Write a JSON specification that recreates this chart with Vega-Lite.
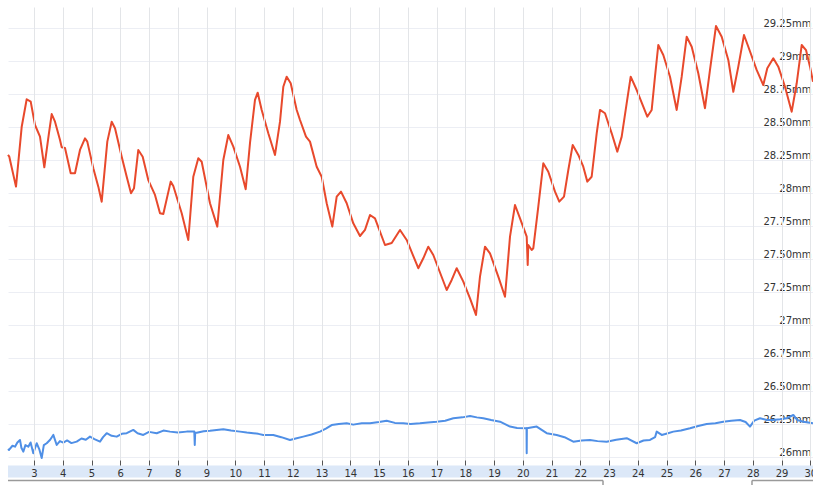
{
  "$schema": "https://vega.github.io/schema/vega-lite/v6.json",
  "width": 805,
  "height": 453,
  "autosize": {"type": "none"},
  "padding": {"left": 8, "top": 7, "right": 0, "bottom": 25},
  "background": "white",
  "config": {"view": {"stroke": null}, "font": "DejaVu Sans"},
  "resolve": {"scale": {"x": "shared", "y": "shared"}, "axis": {"x": "independent", "y": "independent"}},
  "datasets": {
    "series": [
      {"s": "upper", "day": 2.094, "v": 28.288}, {"s": "upper", "day": 2.139, "v": 28.275}, {"s": "upper", "day": 2.372, "v": 28.048}, {"s": "upper", "day": 2.571, "v": 28.502},
      {"s": "upper", "day": 2.744, "v": 28.710}, {"s": "upper", "day": 2.884, "v": 28.692}, {"s": "upper", "day": 3.033, "v": 28.515}, {"s": "upper", "day": 3.207, "v": 28.427},
      {"s": "upper", "day": 3.357, "v": 28.195}, {"s": "upper", "day": 3.520, "v": 28.455}, {"s": "upper", "day": 3.614, "v": 28.598}, {"s": "upper", "day": 3.729, "v": 28.540},
      {"s": "upper", "day": 3.903, "v": 28.402}, {"s": "upper", "day": 3.962, "v": 28.346}, {"s": "upper", "day": 4.077, "v": 28.341}, {"s": "upper", "day": 4.275, "v": 28.149},
      {"s": "upper", "day": 4.424, "v": 28.149}, {"s": "upper", "day": 4.598, "v": 28.326}, {"s": "upper", "day": 4.772, "v": 28.414}, {"s": "upper", "day": 4.852, "v": 28.389},
      {"s": "upper", "day": 5.061, "v": 28.187}, {"s": "upper", "day": 5.235, "v": 28.048}, {"s": "upper", "day": 5.353, "v": 27.934}, {"s": "upper", "day": 5.548, "v": 28.389},
      {"s": "upper", "day": 5.701, "v": 28.540}, {"s": "upper", "day": 5.816, "v": 28.490}, {"s": "upper", "day": 6.049, "v": 28.275}, {"s": "upper", "day": 6.223, "v": 28.123},
      {"s": "upper", "day": 6.372, "v": 27.998}, {"s": "upper", "day": 6.477, "v": 28.036}, {"s": "upper", "day": 6.626, "v": 28.326}, {"s": "upper", "day": 6.779, "v": 28.275},
      {"s": "upper", "day": 6.974, "v": 28.098}, {"s": "upper", "day": 7.207, "v": 27.985}, {"s": "upper", "day": 7.381, "v": 27.846}, {"s": "upper", "day": 7.496, "v": 27.841},
      {"s": "upper", "day": 7.753, "v": 28.086}, {"s": "upper", "day": 7.844, "v": 28.053}, {"s": "upper", "day": 8.136, "v": 27.846}, {"s": "upper", "day": 8.365, "v": 27.644},
      {"s": "upper", "day": 8.539, "v": 28.123}, {"s": "upper", "day": 8.713, "v": 28.263}, {"s": "upper", "day": 8.831, "v": 28.237}, {"s": "upper", "day": 9.120, "v": 27.922},
      {"s": "upper", "day": 9.374, "v": 27.745}, {"s": "upper", "day": 9.583, "v": 28.250}, {"s": "upper", "day": 9.757, "v": 28.439}, {"s": "upper", "day": 9.931, "v": 28.351},
      {"s": "upper", "day": 10.164, "v": 28.199}, {"s": "upper", "day": 10.362, "v": 28.028}, {"s": "upper", "day": 10.511, "v": 28.377}, {"s": "upper", "day": 10.685, "v": 28.705},
      {"s": "upper", "day": 10.779, "v": 28.760}, {"s": "upper", "day": 10.918, "v": 28.629}, {"s": "upper", "day": 11.148, "v": 28.452}, {"s": "upper", "day": 11.381, "v": 28.288},
      {"s": "upper", "day": 11.555, "v": 28.540}, {"s": "upper", "day": 11.670, "v": 28.805}, {"s": "upper", "day": 11.788, "v": 28.881}, {"s": "upper", "day": 11.927, "v": 28.831},
      {"s": "upper", "day": 12.136, "v": 28.629}, {"s": "upper", "day": 12.251, "v": 28.553}, {"s": "upper", "day": 12.459, "v": 28.427}, {"s": "upper", "day": 12.598, "v": 28.389},
      {"s": "upper", "day": 12.831, "v": 28.199}, {"s": "upper", "day": 13.005, "v": 28.123}, {"s": "upper", "day": 13.179, "v": 27.922}, {"s": "upper", "day": 13.374, "v": 27.745},
      {"s": "upper", "day": 13.527, "v": 27.972}, {"s": "upper", "day": 13.677, "v": 28.010}, {"s": "upper", "day": 13.875, "v": 27.922}, {"s": "upper", "day": 14.104, "v": 27.770},
      {"s": "upper", "day": 14.337, "v": 27.674}, {"s": "upper", "day": 14.511, "v": 27.720}, {"s": "upper", "day": 14.685, "v": 27.833}, {"s": "upper", "day": 14.859, "v": 27.808},
      {"s": "upper", "day": 15.207, "v": 27.606}, {"s": "upper", "day": 15.440, "v": 27.621}, {"s": "upper", "day": 15.729, "v": 27.720}, {"s": "upper", "day": 15.962, "v": 27.644},
      {"s": "upper", "day": 16.365, "v": 27.430}, {"s": "upper", "day": 16.539, "v": 27.505}, {"s": "upper", "day": 16.713, "v": 27.593}, {"s": "upper", "day": 16.887, "v": 27.530},
      {"s": "upper", "day": 17.353, "v": 27.265}, {"s": "upper", "day": 17.527, "v": 27.341}, {"s": "upper", "day": 17.701, "v": 27.430}, {"s": "upper", "day": 17.931, "v": 27.328},
      {"s": "upper", "day": 18.164, "v": 27.202}, {"s": "upper", "day": 18.372, "v": 27.076}, {"s": "upper", "day": 18.511, "v": 27.366}, {"s": "upper", "day": 18.685, "v": 27.593},
      {"s": "upper", "day": 18.859, "v": 27.543}, {"s": "upper", "day": 19.148, "v": 27.366}, {"s": "upper", "day": 19.381, "v": 27.214}, {"s": "upper", "day": 19.555, "v": 27.669},
      {"s": "upper", "day": 19.729, "v": 27.909}, {"s": "upper", "day": 19.903, "v": 27.808}, {"s": "upper", "day": 20.136, "v": 27.669}, {"s": "upper", "day": 20.171, "v": 27.455},
      {"s": "upper", "day": 20.191, "v": 27.606}, {"s": "upper", "day": 20.309, "v": 27.568}, {"s": "upper", "day": 20.365, "v": 27.581}, {"s": "upper", "day": 20.539, "v": 27.896},
      {"s": "upper", "day": 20.713, "v": 28.225}, {"s": "upper", "day": 20.887, "v": 28.161}, {"s": "upper", "day": 21.120, "v": 28.010}, {"s": "upper", "day": 21.269, "v": 27.934},
      {"s": "upper", "day": 21.433, "v": 27.972}, {"s": "upper", "day": 21.583, "v": 28.174}, {"s": "upper", "day": 21.736, "v": 28.364}, {"s": "upper", "day": 21.931, "v": 28.288},
      {"s": "upper", "day": 22.104, "v": 28.199}, {"s": "upper", "day": 22.244, "v": 28.086}, {"s": "upper", "day": 22.395, "v": 28.123}, {"s": "upper", "day": 22.570, "v": 28.452},
      {"s": "upper", "day": 22.685, "v": 28.629}, {"s": "upper", "day": 22.859, "v": 28.604}, {"s": "upper", "day": 23.092, "v": 28.452}, {"s": "upper", "day": 23.287, "v": 28.313},
      {"s": "upper", "day": 23.440, "v": 28.427}, {"s": "upper", "day": 23.614, "v": 28.680}, {"s": "upper", "day": 23.753, "v": 28.881}, {"s": "upper", "day": 23.962, "v": 28.780},
      {"s": "upper", "day": 24.191, "v": 28.654}, {"s": "upper", "day": 24.330, "v": 28.578}, {"s": "upper", "day": 24.483, "v": 28.629}, {"s": "upper", "day": 24.598, "v": 28.881},
      {"s": "upper", "day": 24.713, "v": 29.121}, {"s": "upper", "day": 24.887, "v": 29.045}, {"s": "upper", "day": 25.120, "v": 28.881}, {"s": "upper", "day": 25.353, "v": 28.629},
      {"s": "upper", "day": 25.527, "v": 28.881}, {"s": "upper", "day": 25.701, "v": 29.184}, {"s": "upper", "day": 25.875, "v": 29.108}, {"s": "upper", "day": 26.104, "v": 28.907},
      {"s": "upper", "day": 26.337, "v": 28.642}, {"s": "upper", "day": 26.511, "v": 28.932}, {"s": "upper", "day": 26.720, "v": 29.265}, {"s": "upper", "day": 26.918, "v": 29.184},
      {"s": "upper", "day": 27.148, "v": 29.008}, {"s": "upper", "day": 27.322, "v": 28.767}, {"s": "upper", "day": 27.496, "v": 28.957}, {"s": "upper", "day": 27.694, "v": 29.197},
      {"s": "upper", "day": 27.844, "v": 29.108}, {"s": "upper", "day": 28.134, "v": 28.932}, {"s": "upper", "day": 28.365, "v": 28.818}, {"s": "upper", "day": 28.504, "v": 28.945},
      {"s": "upper", "day": 28.713, "v": 29.020}, {"s": "upper", "day": 28.887, "v": 28.957}, {"s": "upper", "day": 29.120, "v": 28.805}, {"s": "upper", "day": 29.353, "v": 28.616},
      {"s": "upper", "day": 29.527, "v": 28.831}, {"s": "upper", "day": 29.701, "v": 29.121}, {"s": "upper", "day": 29.851, "v": 29.083}, {"s": "upper", "day": 29.990, "v": 28.957},
      {"s": "upper", "day": 30.094, "v": 28.843},

      {"s": "lower", "day": 2.094, "v": 26.060}, {"s": "lower", "day": 2.129, "v": 26.053}, {"s": "lower", "day": 2.250, "v": 26.085}, {"s": "lower", "day": 2.337, "v": 26.078},
      {"s": "lower", "day": 2.420, "v": 26.110}, {"s": "lower", "day": 2.511, "v": 26.129}, {"s": "lower", "day": 2.560, "v": 26.070}, {"s": "lower", "day": 2.626, "v": 26.040},
      {"s": "lower", "day": 2.700, "v": 26.090}, {"s": "lower", "day": 2.800, "v": 26.078}, {"s": "lower", "day": 2.880, "v": 26.110}, {"s": "lower", "day": 2.974, "v": 26.028},
      {"s": "lower", "day": 3.092, "v": 26.104}, {"s": "lower", "day": 3.180, "v": 26.060}, {"s": "lower", "day": 3.266, "v": 25.992}, {"s": "lower", "day": 3.340, "v": 26.090},
      {"s": "lower", "day": 3.440, "v": 26.104}, {"s": "lower", "day": 3.560, "v": 26.130}, {"s": "lower", "day": 3.670, "v": 26.167}, {"s": "lower", "day": 3.788, "v": 26.091},
      {"s": "lower", "day": 3.900, "v": 26.120}, {"s": "lower", "day": 4.017, "v": 26.108}, {"s": "lower", "day": 4.150, "v": 26.125}, {"s": "lower", "day": 4.300, "v": 26.105},
      {"s": "lower", "day": 4.484, "v": 26.116}, {"s": "lower", "day": 4.650, "v": 26.140}, {"s": "lower", "day": 4.800, "v": 26.130}, {"s": "lower", "day": 4.946, "v": 26.154},
      {"s": "lower", "day": 5.100, "v": 26.135}, {"s": "lower", "day": 5.294, "v": 26.116}, {"s": "lower", "day": 5.400, "v": 26.150}, {"s": "lower", "day": 5.527, "v": 26.180},
      {"s": "lower", "day": 5.700, "v": 26.160}, {"s": "lower", "day": 5.875, "v": 26.154}, {"s": "lower", "day": 6.050, "v": 26.175}, {"s": "lower", "day": 6.223, "v": 26.180},
      {"s": "lower", "day": 6.452, "v": 26.205}, {"s": "lower", "day": 6.600, "v": 26.180}, {"s": "lower", "day": 6.800, "v": 26.167}, {"s": "lower", "day": 7.000, "v": 26.190},
      {"s": "lower", "day": 7.266, "v": 26.180}, {"s": "lower", "day": 7.500, "v": 26.200}, {"s": "lower", "day": 7.729, "v": 26.192}, {"s": "lower", "day": 8.000, "v": 26.185},
      {"s": "lower", "day": 8.310, "v": 26.192}, {"s": "lower", "day": 8.574, "v": 26.192}, {"s": "lower", "day": 8.590, "v": 26.091}, {"s": "lower", "day": 8.605, "v": 26.184},
      {"s": "lower", "day": 8.658, "v": 26.184}, {"s": "lower", "day": 8.900, "v": 26.195}, {"s": "lower", "day": 9.120, "v": 26.199}, {"s": "lower", "day": 9.350, "v": 26.205},
      {"s": "lower", "day": 9.583, "v": 26.210}, {"s": "lower", "day": 9.850, "v": 26.200}, {"s": "lower", "day": 10.164, "v": 26.192}, {"s": "lower", "day": 10.400, "v": 26.185},
      {"s": "lower", "day": 10.626, "v": 26.180}, {"s": "lower", "day": 10.800, "v": 26.175}, {"s": "lower", "day": 10.974, "v": 26.167}, {"s": "lower", "day": 11.322, "v": 26.167},
      {"s": "lower", "day": 11.600, "v": 26.150}, {"s": "lower", "day": 11.903, "v": 26.129}, {"s": "lower", "day": 12.100, "v": 26.140}, {"s": "lower", "day": 12.365, "v": 26.154},
      {"s": "lower", "day": 12.650, "v": 26.170}, {"s": "lower", "day": 12.946, "v": 26.192}, {"s": "lower", "day": 13.150, "v": 26.215}, {"s": "lower", "day": 13.353, "v": 26.242},
      {"s": "lower", "day": 13.600, "v": 26.250}, {"s": "lower", "day": 13.875, "v": 26.255}, {"s": "lower", "day": 14.100, "v": 26.245}, {"s": "lower", "day": 14.400, "v": 26.255},
      {"s": "lower", "day": 14.685, "v": 26.255}, {"s": "lower", "day": 15.000, "v": 26.265}, {"s": "lower", "day": 15.266, "v": 26.275}, {"s": "lower", "day": 15.550, "v": 26.258},
      {"s": "lower", "day": 15.844, "v": 26.255}, {"s": "lower", "day": 16.100, "v": 26.250}, {"s": "lower", "day": 16.424, "v": 26.255}, {"s": "lower", "day": 16.700, "v": 26.262},
      {"s": "lower", "day": 17.005, "v": 26.267}, {"s": "lower", "day": 17.300, "v": 26.275}, {"s": "lower", "day": 17.583, "v": 26.293}, {"s": "lower", "day": 17.900, "v": 26.300},
      {"s": "lower", "day": 18.164, "v": 26.311}, {"s": "lower", "day": 18.400, "v": 26.300}, {"s": "lower", "day": 18.626, "v": 26.293}, {"s": "lower", "day": 18.900, "v": 26.280},
      {"s": "lower", "day": 19.207, "v": 26.267}, {"s": "lower", "day": 19.555, "v": 26.230}, {"s": "lower", "day": 19.800, "v": 26.220}, {"s": "lower", "day": 20.130, "v": 26.217},
      {"s": "lower", "day": 20.136, "v": 26.028}, {"s": "lower", "day": 20.142, "v": 26.217}, {"s": "lower", "day": 20.483, "v": 26.230}, {"s": "lower", "day": 20.831, "v": 26.180},
      {"s": "lower", "day": 21.179, "v": 26.167}, {"s": "lower", "day": 21.450, "v": 26.150}, {"s": "lower", "day": 21.757, "v": 26.116}, {"s": "lower", "day": 22.050, "v": 26.125},
      {"s": "lower", "day": 22.338, "v": 26.129}, {"s": "lower", "day": 22.600, "v": 26.120}, {"s": "lower", "day": 22.917, "v": 26.116}, {"s": "lower", "day": 23.250, "v": 26.130},
      {"s": "lower", "day": 23.614, "v": 26.142}, {"s": "lower", "day": 23.962, "v": 26.104}, {"s": "lower", "day": 24.200, "v": 26.125}, {"s": "lower", "day": 24.425, "v": 26.129},
      {"s": "lower", "day": 24.600, "v": 26.150}, {"s": "lower", "day": 24.658, "v": 26.192}, {"s": "lower", "day": 24.832, "v": 26.167}, {"s": "lower", "day": 25.050, "v": 26.180},
      {"s": "lower", "day": 25.235, "v": 26.192}, {"s": "lower", "day": 25.500, "v": 26.200}, {"s": "lower", "day": 25.816, "v": 26.217}, {"s": "lower", "day": 26.100, "v": 26.235},
      {"s": "lower", "day": 26.397, "v": 26.250}, {"s": "lower", "day": 26.700, "v": 26.255}, {"s": "lower", "day": 26.975, "v": 26.267}, {"s": "lower", "day": 27.250, "v": 26.275},
      {"s": "lower", "day": 27.555, "v": 26.280}, {"s": "lower", "day": 27.750, "v": 26.265}, {"s": "lower", "day": 27.903, "v": 26.230}, {"s": "lower", "day": 28.050, "v": 26.275},
      {"s": "lower", "day": 28.251, "v": 26.293}, {"s": "lower", "day": 28.500, "v": 26.280}, {"s": "lower", "day": 28.714, "v": 26.280}, {"s": "lower", "day": 28.950, "v": 26.285},
      {"s": "lower", "day": 29.180, "v": 26.293}, {"s": "lower", "day": 29.409, "v": 26.318}, {"s": "lower", "day": 29.550, "v": 26.280}, {"s": "lower", "day": 29.757, "v": 26.267},
      {"s": "lower", "day": 30.094, "v": 26.255}
    ]
  },
  "layer": [
    {
      "data": {"name": "series"},
      "mark": {"type": "line", "strokeWidth": 2, "strokeJoin": "round"},
      "encoding": {
        "x": {
          "field": "day", "type": "quantitative",
          "scale": {"domain": [2.094, 30.094], "nice": false, "zero": false},
          "axis": {
            "title": null, "orient": "bottom", "zindex": 1,
            "values": [3,4,5,6,7,8,9,10,11,12,13,14,15,16,17,18,19,20,21,22,23,24,25,26,27,28,29,30],
            "domain": false, "ticks": true, "tickSize": 5, "tickColor": "#555", "tickWidth": 1,
            "labelPadding": 3, "labelFontSize": 10, "labelColor": "#333", "labelFont": "DejaVu Sans",
            "labelFlush": false, "labelOverlap": false, "labelSeparation": 0, "labelBound": false,
            "grid": true, "gridColor": "#e3e5e8", "gridWidth": 1
          }
        },
        "y": {
          "field": "v", "type": "quantitative",
          "scale": {"domain": [25.977, 29.409], "nice": false, "zero": false},
          "axis": {
            "title": null, "orient": "right", "zindex": 0,
            "values": [26, 26.25, 26.5, 26.75, 27, 27.25, 27.5, 27.75, 28, 28.25, 28.5, 28.75, 29, 29.25],
            "labelExpr": "(datum.value % 1 == 0 ? format(datum.value, 'd') : format(datum.value, '.2f')) + 'mm'",
            "domain": false, "ticks": false, "tickSize": 0,
            "labelAlign": "right", "labelBaseline": "alphabetic", "labelPadding": -2, "labelOffset": -1.5,
            "labelFontSize": 10, "labelColor": "#333", "labelFont": "DejaVu Sans",
            "labelFlush": false, "labelOverlap": false, "labelSeparation": 0, "labelBound": false,
            "grid": true, "gridColor": "#eceef4", "gridWidth": 1
          }
        },
        "color": {
          "field": "s", "type": "nominal",
          "scale": {"domain": ["upper", "lower"], "range": ["#e8492c", "#4f8fe6"]},
          "legend": null
        }
      }
    },
    {
      "data": {"values": [{}]},
      "mark": {"type": "rect", "color": "#dce8f8"},
      "encoding": {
        "x": {"datum": 2.094, "type": "quantitative", "axis": null},
        "x2": {"datum": 30.094},
        "y": {"datum": 25.936, "type": "quantitative", "axis": null},
        "y2": {"datum": 25.845}
      }
    },
    {
      "data": {"values": [{}]},
      "mark": {"type": "rule", "color": "#9a9a9a", "strokeWidth": 1.5},
      "encoding": {
        "x": {"datum": 2.094, "type": "quantitative", "axis": null},
        "x2": {"datum": 22.79},
        "y": {"datum": 25.822, "type": "quantitative", "axis": null}
      }
    },
    {
      "data": {"values": [{}]},
      "mark": {"type": "rule", "color": "#9a9a9a", "strokeWidth": 1.5},
      "encoding": {
        "x": {"datum": 22.79, "type": "quantitative", "axis": null},
        "y": {"datum": 25.822, "type": "quantitative", "axis": null},
        "y2": {"datum": 25.7}
      }
    },
    {
      "data": {"values": [{}]},
      "mark": {"type": "rule", "color": "#9a9a9a", "strokeWidth": 1.5},
      "encoding": {
        "x": {"datum": 27.972, "type": "quantitative", "axis": null},
        "x2": {"datum": 30.094},
        "y": {"datum": 25.822, "type": "quantitative", "axis": null}
      }
    },
    {
      "data": {"values": [{}]},
      "mark": {"type": "rule", "color": "#9a9a9a", "strokeWidth": 1.5},
      "encoding": {
        "x": {"datum": 27.972, "type": "quantitative", "axis": null},
        "y": {"datum": 25.822, "type": "quantitative", "axis": null},
        "y2": {"datum": 25.7}
      }
    }
  ]
}
